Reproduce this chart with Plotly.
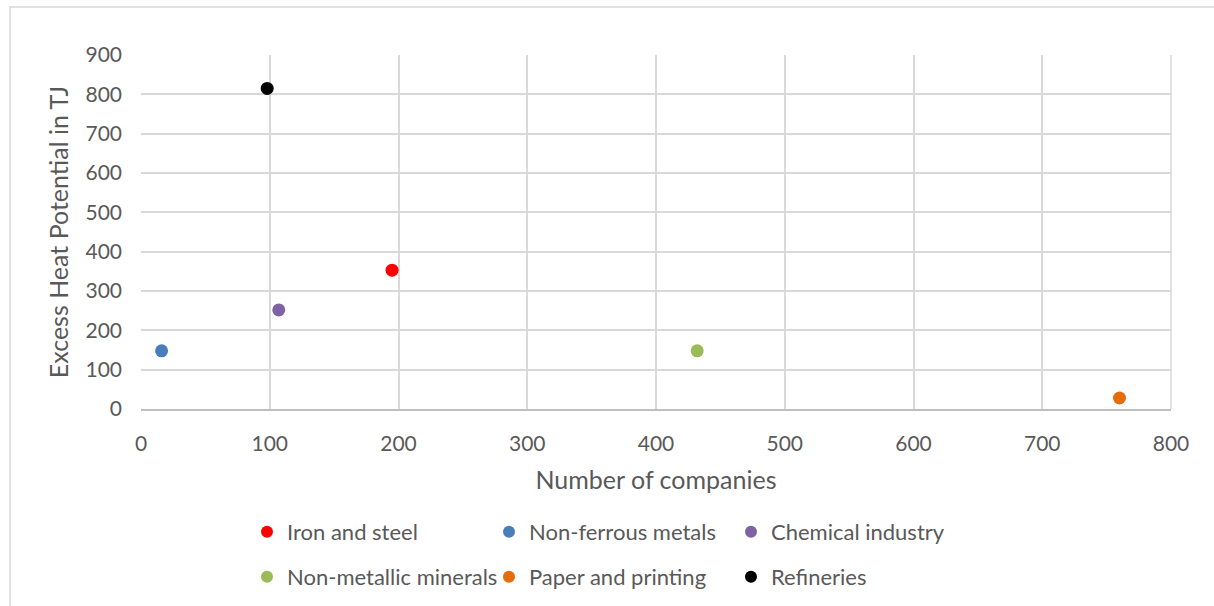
import plotly.graph_objects as go

# Industrial sectors: number of companies vs. excess heat potential (TJ)
sectors = ["Iron and steel", "Non-ferrous metals", "Chemical industry",
           "Non-metallic minerals", "Paper and printing", "Refineries"]
companies = [195, 16, 107, 432, 760, 98]
heat_tj = [353, 148, 252, 148, 28, 815]
colors = ["#FF0000", "#4A7EBB", "#7F62A3", "#9BBB59", "#E46C0A", "#000000"]
legend_ids = ["legend", "legend", "legend", "legend2", "legend2", "legend2"]

x_ticks = [0, 100, 200, 300, 400, 500, 600, 700, 800]
y_ticks = [0, 100, 200, 300, 400, 500, 600, 700, 800, 900]

FONT = "Lato"
TEXT = "#595959"
GRID = "#D9D9D9"

fig = go.Figure()
for name, x, y, c, lg in zip(sectors, companies, heat_tj, colors, legend_ids):
    fig.add_trace(go.Scatter(
        x=[x], y=[y], mode="markers", name=name, legend=lg,
        marker=dict(color=c, size=13, line=dict(width=0)),
    ))

W, H = 1214, 606
L, R, T, B = 141, 43, 55, 197
pw, ph = W - L - R, H - T - B


def px_x(p):
    return (p - L) / pw


def px_y(p):
    return (H - B - p) / ph


legend_common = dict(
    orientation="h", xanchor="left", yanchor="middle",
    font=dict(family=FONT, size=22, color=TEXT),
    entrywidth=197, entrywidthmode="pixels",
    itemsizing="constant", bgcolor="rgba(0,0,0,0)",
    tracegroupgap=0, itemclick=False,
)

fig.update_layout(
    width=W, height=H,
    margin=dict(l=L, r=R, t=T, b=B, autoexpand=False),
    paper_bgcolor="white", plot_bgcolor="white",
    font=dict(family=FONT, color=TEXT),
    xaxis=dict(
        range=[0, 800], tickvals=x_ticks, showgrid=True, gridcolor=GRID,
        gridwidth=1.5, zeroline=False, showline=True, linecolor="#BFBFBF",
        linewidth=1.5, mirror=False, ticks="", ticklabelstandoff=15,
        tickfont=dict(family=FONT, size=21, color=TEXT),
        title=dict(text="Number of companies", standoff=18,
                   font=dict(family=FONT, size=25, color=TEXT)),
        automargin=False, fixedrange=True,
    ),
    yaxis=dict(
        range=[0, 900], tickvals=y_ticks, showgrid=True, gridcolor=GRID,
        gridwidth=1.5, zeroline=False, showline=False, ticks="",
        ticklabelstandoff=18,
        tickfont=dict(family=FONT, size=21, color=TEXT),
        title=dict(text="Excess Heat Potential in TJ", standoff=9,
                   font=dict(family=FONT, size=25, color=TEXT)),
        automargin=False, fixedrange=True,
    ),
    legend=dict(x=px_x(247), y=px_y(532), **legend_common),
    legend2=dict(x=px_x(247), y=px_y(577), **legend_common),
    showlegend=True,
)

# Outer chart frame (top and left edges visible)
fig.add_shape(type="rect", xref="paper", yref="paper",
              x0=px_x(10), x1=px_x(W + 20), y0=px_y(H + 20), y1=px_y(7),
              line=dict(color="#D9D9D9", width=1.5), fillcolor="rgba(0,0,0,0)",
              layer="below")
# Right edge of plot area
fig.add_shape(type="line", xref="paper", yref="paper",
              x0=1, x1=1, y0=0, y1=1, line=dict(color=GRID, width=1.5),
              layer="below")

fig.write_html("out.html")
